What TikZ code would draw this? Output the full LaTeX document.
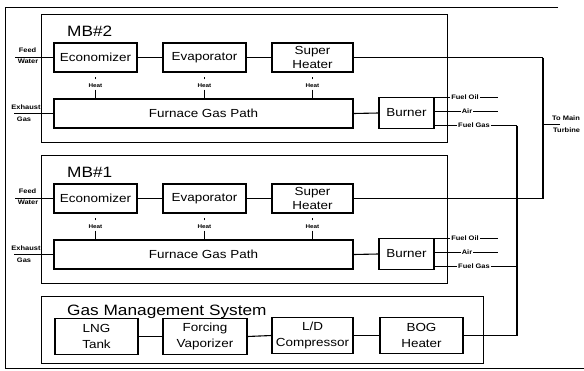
\documentclass[tikz,border=0pt]{standalone}
\usepackage{fontspec}
\setmainfont{Liberation Sans}[FakeStretch=1.15]
\begin{document}
\begin{tikzpicture}[x=1pt,y=-1pt,
  blk/.style={draw, line width=1.1pt, inner sep=0pt, align=center, font=\fontsize{11.7}{15}\selectfont},
  shblk/.style={blk, font=\fontsize{11.7}{13.5}\selectfont},
  frm/.style={draw, line width=0.7pt},
  conn/.style={draw, line width=1.1pt},
  lbl/.style={inner sep=1pt, font=\fontsize{6.5}{7}\selectfont\bfseries},
  heatlbl/.style={inner sep=0pt, font=\fontsize{5.5}{6}\selectfont\bfseries},
  ttl/.style={inner sep=0pt, anchor=base west, font=\fontsize{15}{18}\selectfont}]
\useasboundingbox (0,0) rectangle (584,370);
\draw[frm, line width=0.9pt] (558,7) -- (5,7) -- (5,368) -- (584,368);

\foreach \i/\dy in {2/0,1/141} {
 \begin{scope}[shift={(0,\dy)}]
  \draw[frm] (41,14) rectangle (447,142);
  \node[ttl] (t\i) at (67,36) {MB\#\i};
  \node[blk, minimum width=83pt, minimum height=29pt] (econ\i) at (95.5,57.5) {Economizer};
  \node[blk, minimum width=83pt, minimum height=29pt] (evap\i) at (204.5,57.5) {Evaporator};
  \node[shblk, minimum width=81pt, minimum height=29pt] (sh\i) at (312.5,57.5) {Super\\Heater};
  \node[blk, minimum width=299pt, minimum height=29pt] (furn\i) at (203.5,113.5) {Furnace Gas Path};
  \node[blk, minimum width=55pt, minimum height=31pt] (burn\i) at (406.5,113) {Burner};
  \draw[conn] (econ\i.east) -- (evap\i.west);
  \draw[conn] (evap\i.east) -- (sh\i.west);
  \draw[conn] (furn\i.east) -- (burn\i.west);
  % heat
  \foreach \b in {econ,evap,sh} {
    \node[heatlbl] (h\b\i) at (\b\i.south |- 0,85.5) {Heat};
    \draw[line width=0.7pt] (h\b\i.north) ++(0,-4) -- ++(0,-2);
    \draw[line width=0.7pt] (h\b\i.south) ++(0,2) -- (h\b\i.south |- furn\i.north);
  }
  % feed water
  \coordinate (fw\i) at (15,57.5);
  \draw[conn] (fw\i) -- (econ\i.west);
  \node[lbl] (feed\i) at (27.5,50.5) {Feed};
  \node[lbl] (water\i) at (28,61.5) {Water};
  % exhaust gas
  \coordinate (eg\i) at (14,113.5);
  \draw[conn] (eg\i) -- (furn\i.west);
  \node[lbl] (exh\i) at (26,107.5) {Exhaust};
  \node[lbl] (gas\i) at (24,119.5) {Gas};
  % fuel lines
  \node[lbl] (fo\i) at (465,97.5) {Fuel Oil};
  \coordinate (foe\i) at (498,97.5);
  \draw[conn, line width=0.8pt] (burn\i.east |- fo\i) -- (fo\i.west);
  \draw[conn, line width=0.8pt] (fo\i.east) -- (foe\i);
  \node[lbl] (air\i) at (467,111.5) {Air};
  \coordinate (aire\i) at (498,111.5);
  \draw[conn, line width=0.8pt] (burn\i.east |- air\i) -- (air\i.west);
  \draw[conn, line width=0.8pt] (air\i.east) -- (aire\i);
  \node[lbl] (fg\i) at (474,125.5) {Fuel Gas};
  \coordinate (fgx\i) at (517,125.5);
  \draw[conn, line width=0.8pt] (burn\i.east |- fg\i) -- (fg\i.west);
  \draw[conn] (fg\i.east) -- (fgx\i);
  % super heater outlet
  \coordinate (shx\i) at (543,57.5);
  \draw[conn] (sh\i.east) -- (shx\i);
 \end{scope}
}

% steam to turbine
\draw[conn] (shx2) -- (shx1);
\coordinate (tm) at (543,124);
\coordinate (tme) at (560,124);
\draw[conn, line width=0.8pt] (tm) -- (tme);
\node[lbl, anchor=west, inner sep=0pt] (tomain) at (552,118) {To Main};
\node[lbl, anchor=west, inner sep=0pt] (turb) at (553,130) {Turbine};

% gas management system
\draw[frm] (41,296) rectangle (483,363);
\node[ttl] (gms) at (67,315) {Gas Management System};
\node[blk, minimum width=83pt, minimum height=36pt, font=\fontsize{11.7}{16}\selectfont] (lng) at (96.5,336.5) {LNG\\Tank};
\node[blk, minimum width=84pt, minimum height=36pt, font=\fontsize{11.7}{16}\selectfont] (fv) at (205,336.5) {Forcing\\Vaporizer};
\node[blk, minimum width=81pt, minimum height=36pt, font=\fontsize{11.7}{16}\selectfont] (ld) at (312.5,335.5) {L/D\\Compressor};
\node[blk, minimum width=83pt, minimum height=36pt, font=\fontsize{11.7}{16}\selectfont] (bog) at (421.5,335.5) {BOG\\Heater};
\draw[conn] (lng.east) -- (fv.west);
\draw[conn] (fv.east) -- (ld.west);
\draw[conn] (ld.east) -- (bog.west);
\draw[conn] (fgx2) -- (bog.east -| fgx2) -- (bog.east);
\end{tikzpicture}
\end{document}
